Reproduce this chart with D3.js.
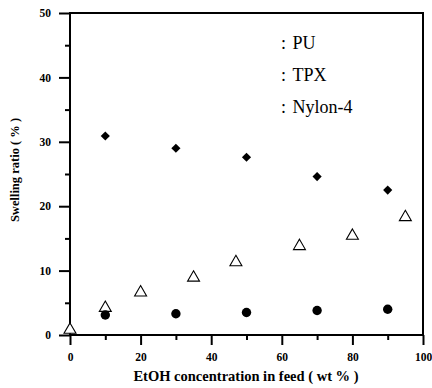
<!DOCTYPE html>
<html>
<head>
<meta charset="utf-8">
<script src="https://cdn.jsdelivr.net/npm/d3@7"></script>
<style>
  body { margin: 0; background: #fff; }
</style>
</head>
<body>
<div id="chart-area"></div>
<script>
// series
const puX = [10, 30, 50, 70, 90];
const puY = [30.9, 29.0, 27.6, 24.6, 22.5];
const tpxX = [0, 10, 20, 35, 47, 65, 80, 95];
const tpxY = [0.8, 4.2, 6.6, 8.9, 11.3, 13.8, 15.4, 18.3];
const nylonX = [10, 30, 50, 70, 90];
const nylonY = [3.1, 3.3, 3.5, 3.8, 4.0];
const legendLabels = ['PU', 'TPX', 'Nylon-4'];
const xMajor = [0, 20, 40, 60, 80, 100];
const xMinor = [10, 30, 50, 70, 90];
const yMajor = [0, 10, 20, 30, 40, 50];
const yMinor = [5, 15, 25, 35, 45];

(() => {
  const font = 'Liberation Serif';
  const widthSvg = 432;
  const heightSvg = 388;
  const margin = { top: 13, right: 9, bottom: 53, left: 70 };
  const widthChart = widthSvg - margin.left - margin.right;
  const heightChart = heightSvg - margin.top - margin.bottom;

  const scaleX = d3.scaleLinear().domain([0, 100]).range([0, widthChart]);
  const scaleY = d3.scaleLinear().domain([0, 50]).range([heightChart, 0]);

  const svg = d3.select('#chart-area')
    .append('svg')
      .attr('width', widthSvg)
      .attr('height', heightSvg);

  const chart = svg.append('g')
    .attr('transform', `translate(${margin.left}, ${margin.top})`);

  // axes: major ticks labelled, minor ticks shorter
  const axisXMajor = d3.axisBottom(scaleX).tickValues(xMajor).tickSize(10).tickPadding(8).tickSizeOuter(0);
  const axisXMinor = d3.axisBottom(scaleX).tickValues(xMinor).tickSize(5).tickFormat('').tickSizeOuter(0);
  const axisYMajor = d3.axisLeft(scaleY).tickValues(yMajor).tickSize(11).tickPadding(8).tickSizeOuter(0);
  const axisYMinor = d3.axisLeft(scaleY).tickValues(yMinor).tickSize(5).tickFormat('').tickSizeOuter(0);

  const styleAxis = g => {
    g.attr('font-family', font);
    g.selectAll('path').remove();
    g.selectAll('line').attr('stroke', '#000').attr('stroke-width', 2);
    g.selectAll('text')
      .attr('fill', '#000')
      .attr('font-family', font)
      .attr('font-weight', 'bold')
      .attr('font-size', '11.5px');
  };

  chart.append('g').attr('transform', `translate(0, ${heightChart})`).call(axisXMajor).call(styleAxis);
  chart.append('g').attr('transform', `translate(0, ${heightChart})`).call(axisXMinor).call(styleAxis);
  chart.append('g').call(axisYMajor).call(styleAxis);
  chart.append('g').call(axisYMinor).call(styleAxis);

  // frame
  chart.append('rect')
    .attr('width', widthChart)
    .attr('height', heightChart)
    .attr('fill', 'none')
    .attr('stroke', '#000')
    .attr('stroke-width', 2);

  // labels
  chart.append('text')
    .text('EtOH concentration in feed ( wt % )')
      .attr('font-family', font)
      .attr('text-anchor', 'middle')
      .attr('font-weight', 'bold')
      .attr('font-size', '14.5px')
      .attr('transform', `translate(${widthChart / 2 - 0.5}, ${heightChart + 46})`);

  chart.append('text')
    .text('Swelling ratio ( % )')
      .attr('font-family', font)
      .attr('text-anchor', 'middle')
      .attr('font-weight', 'bold')
      .attr('font-size', '12.5px')
      .attr('transform', `translate(-51, ${heightChart / 2 - 4})rotate(-90)`);

  // points
  const pts = (xs, ys) => xs.map((x, i) => ({ x: x, y: ys[i] }));

  chart.selectAll('.tpx')
    .data(pts(tpxX, tpxY))
    .enter()
    .append('path')
      .attr('class', 'tpx')
      .attr('d', d3.symbol().type(d3.symbolTriangle).size(62))
      .attr('transform', d => `translate(${scaleX(d.x)}, ${scaleY(d.y)})`)
      .attr('fill', '#fff')
      .attr('stroke', '#000')
      .attr('stroke-width', 1.1);

  chart.selectAll('.nylon')
    .data(pts(nylonX, nylonY))
    .enter()
    .append('circle')
      .attr('class', 'nylon')
      .attr('cx', d => scaleX(d.x))
      .attr('cy', d => scaleY(d.y))
      .attr('r', 4.7)
      .attr('fill', '#000');

  chart.selectAll('.pu')
    .data(pts(puX, puY))
    .enter()
    .append('path')
      .attr('class', 'pu')
      .attr('d', d3.symbol().type(d3.symbolSquare).size(42))
      .attr('transform', d => `translate(${scaleX(d.x)}, ${scaleY(d.y)})rotate(45)`)
      .attr('fill', '#000');

  // legend (text only, as in the figure)
  const legend = svg.append('g')
    .attr('transform', 'translate(281, 49)');

  legendLabels.forEach((label, i) => {
    const row = legend.append('g')
      .attr('transform', `translate(0, ${i * 32.2})`);

    row.append('text')
      .attr('font-family', font)
      .attr('font-size', '18px')
      .attr('fill', '#000')
      .text(':');

    row.append('text')
      .attr('x', 11.5)
      .attr('font-family', font)
      .attr('font-size', '18px')
      .attr('fill', '#000')
      .text(label);
  });
})();
</script>
</body>
</html>
